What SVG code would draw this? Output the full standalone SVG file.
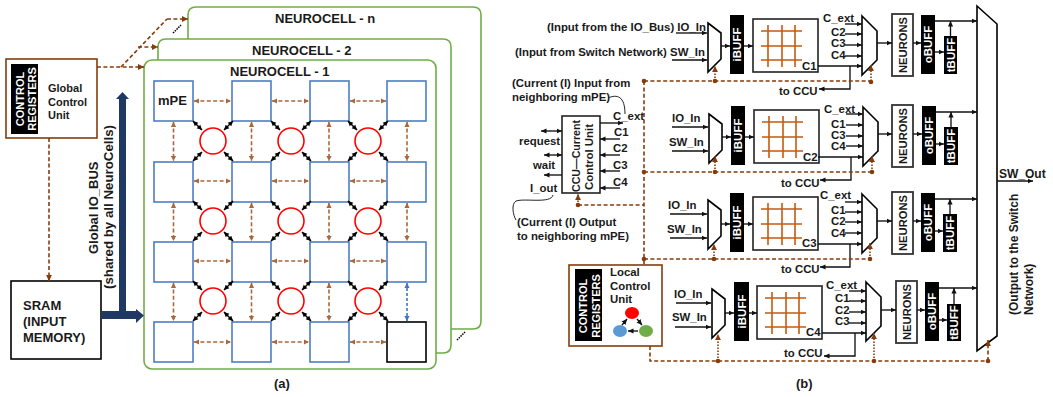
<svg xmlns="http://www.w3.org/2000/svg" xmlns:xlink="http://www.w3.org/1999/xlink" width="1053" height="397" viewBox="0 0 1053 397">
<style>
text{font-family:"Liberation Sans",Arial,sans-serif;font-weight:bold;fill:#1a1a1a}
.s11{font-size:11px}.t{font-size:11.4px}.b13{font-size:13px}.w{fill:#fff;font-size:11.5px;text-anchor:middle}.n{font-size:11.2px;text-anchor:middle}.r{font-size:11px;fill:#fff;text-anchor:middle}
.cell{fill:#fff;stroke:#70ad47;stroke-width:1.6}
.pe{fill:#fff;stroke:#4f7cc4;stroke-width:1.6}
.x{fill:#fff;stroke:#f00;stroke-width:1.6}
.ctl{fill:#fff;stroke:#843c0c;stroke-width:1.6}
.bk{fill:#000}
.mx{fill:#fff;stroke:#000;stroke-width:1.6}
.bx{fill:#fff;stroke:#222;stroke-width:1.6}
.nb{fill:#fff;stroke:#333;stroke-width:1.8}
.g{stroke:#c55a11;stroke-width:1.6;fill:none}
.a{stroke:#111;stroke-width:1.35;fill:none;marker-end:url(#ah)}
.l{stroke:#111;stroke-width:1.35;fill:none}
.aa{stroke:#111;stroke-width:1.35;fill:none;marker-end:url(#ah);marker-start:url(#ah)}
.d{stroke:#843c0c;stroke-width:1.6;fill:none;stroke-dasharray:4 2.4}
.da{stroke:#843c0c;stroke-width:1.6;fill:none;stroke-dasharray:4 2.4;marker-end:url(#bh)}
.dt{stroke:#843c0c;stroke-width:1.6;fill:none;stroke-dasharray:1.5 1.5;marker-end:url(#bh)}
.m{stroke:#a5683f;stroke-width:1.6;fill:none;stroke-dasharray:4 2.4;marker-end:url(#mh);marker-start:url(#mh)}
.u{stroke:#4472c4;stroke-width:1.6;fill:none;stroke-dasharray:3 2;marker-end:url(#uh);marker-start:url(#uh)}
.dg{stroke:#000;stroke-width:1.5;fill:none;marker-end:url(#kh);marker-start:url(#kh)}
.dot{fill:#843c0c}
.c{stroke:#222;stroke-width:1;fill:none}
</style>
<defs>
<marker id="ah" markerUnits="userSpaceOnUse" markerWidth="6" markerHeight="6" refX="5.500" refY="3" orient="auto-start-reverse"><path d="M0,.4L5.500,3L0,5.600z" fill="#111"/></marker>
<marker id="bh" markerUnits="userSpaceOnUse" markerWidth="7" markerHeight="7" refX="6" refY="3.500" orient="auto-start-reverse"><path d="M0,.6L6,3.500L0,6.400z" fill="#843c0c"/></marker>
<marker id="mh" markerUnits="userSpaceOnUse" markerWidth="6" markerHeight="6" refX="5" refY="3" orient="auto-start-reverse"><path d="M0,.4L5,3L0,5.600z" fill="#a5683f"/></marker>
<marker id="uh" markerUnits="userSpaceOnUse" markerWidth="6" markerHeight="6" refX="5" refY="3" orient="auto-start-reverse"><path d="M0,.4L5,3L0,5.600z" fill="#4472c4"/></marker>
<marker id="kh" markerUnits="userSpaceOnUse" markerWidth="6" markerHeight="6" refX="5" refY="3" orient="auto-start-reverse"><path d="M0,.4L5,3L0,5.600z" fill="#000"/></marker>
<polygon id="mux1" class="mx" points="0,0 13,10 13,36 0,49"/>
<polygon id="mux2" class="mx" points="0,0 15,15 15,44 0,59"/>
<g id="grid"><rect class="bx" width="65" height="53"/><path class="g" d="M8,12H49M8,27H49M8,41H49M15,6V48M29,6V48M42,6V48"/></g>
<g id="diag">
<line class="dg" x1="-20" y1="-20" x2="-11" y2="-11"/><line class="dg" x1="20" y1="-20" x2="11" y2="-11"/>
<line class="dg" x1="-20" y1="20" x2="-11" y2="11"/><line class="dg" x1="20" y1="20" x2="11" y2="11"/>
</g>
</defs>
<rect width="1053" height="397" fill="#fff"/>

<g id="neurocell-n"><path class="cell" d="M188,60V15Q188,7 196,7H473Q481,7 481,15V321Q481,329 473,329H440"/><text class="b13" x="275" y="23">NEUROCELL - n</text></g>
<g id="neurocell-2"><path class="cell" d="M158,62V47Q158,39 166,39H443Q451,39 451,47V345Q451,353 443,353H430"/><text class="b13" x="252" y="55">NEUROCELL - 2</text></g>
<g id="neurocell-1"><rect class="cell" x="144" y="60" width="292" height="309" rx="8"/><text class="b13" x="230" y="76">NEUROCELL - 1</text></g>

<g id="mpe-1-1"><rect class="pe" x="154" y="81" width="39" height="40"/><text class="b13" x="158" y="105">mPE</text></g>
<g id="mpe-1-2"><rect class="pe" x="232" y="81" width="39" height="40"/></g>
<g id="mpe-1-3"><rect class="pe" x="310" y="81" width="39" height="40"/></g>
<g id="mpe-1-4"><rect class="pe" x="387" y="81" width="39" height="40"/></g>
<g id="mpe-2-1"><rect class="pe" x="154" y="162" width="39" height="40"/></g>
<g id="mpe-2-2"><rect class="pe" x="232" y="162" width="39" height="40"/></g>
<g id="mpe-2-3"><rect class="pe" x="310" y="162" width="39" height="40"/></g>
<g id="mpe-2-4"><rect class="pe" x="387" y="162" width="39" height="40"/></g>
<g id="mpe-3-1"><rect class="pe" x="154" y="242" width="39" height="40"/></g>
<g id="mpe-3-2"><rect class="pe" x="232" y="242" width="39" height="40"/></g>
<g id="mpe-3-3"><rect class="pe" x="310" y="242" width="39" height="40"/></g>
<g id="mpe-3-4"><rect class="pe" x="387" y="242" width="39" height="40"/></g>
<g id="mpe-4-1"><rect class="pe" x="154" y="322" width="39" height="40"/></g>
<g id="mpe-4-2"><rect class="pe" x="232" y="322" width="39" height="40"/></g>
<g id="mpe-4-3"><rect class="pe" x="310" y="322" width="39" height="40"/></g>
<g id="mpe-4-4"><rect x="387" y="322" width="39" height="40" fill="#fff" stroke="#000" stroke-width="1.6"/></g>

<g id="router-1-1"><circle class="x" cx="213" cy="141" r="13"/></g>
<g id="router-1-2"><circle class="x" cx="291" cy="141" r="13"/></g>
<g id="router-1-3"><circle class="x" cx="368" cy="141" r="13"/></g>
<g id="router-2-1"><circle class="x" cx="213" cy="221" r="13"/></g>
<g id="router-2-2"><circle class="x" cx="291" cy="221" r="13"/></g>
<g id="router-2-3"><circle class="x" cx="368" cy="221" r="13"/></g>
<g id="router-3-1"><circle class="x" cx="213" cy="301" r="13"/></g>
<g id="router-3-2"><circle class="x" cx="291" cy="301" r="13"/></g>
<g id="router-3-3"><circle class="x" cx="368" cy="301" r="13"/></g>

<g id="global-control"><rect class="ctl" x="6" y="59" width="91" height="79"/><rect class="bk" x="11" y="64" width="27" height="70"/>
<text class="r" transform="translate(24,99) rotate(-90)">CONTROL</text><text class="r" transform="translate(36,99) rotate(-90)">REGISTERS</text>
<text class="s11" x="48" y="92">Global</text><text class="s11" x="48" y="106">Control</text><text class="s11" x="48" y="119">Unit</text></g>
<g id="sram"><rect x="11" y="281" width="90" height="78" fill="#fff" stroke="#000" stroke-width="1.6"/>
<text class="b13" x="23" y="310">SRAM</text><text class="b13" x="23" y="326">(INPUT</text><text class="b13" x="23" y="342">MEMORY)</text></g>
<g id="io-bus-label"><text class="b13" transform="translate(98,254) rotate(-90)">Global IO_BUS</text><text class="b13" style="font-size:13.3px" transform="translate(113,289) rotate(-90)">(shared by all NeuroCells)</text></g>
<text class="b13" x="274" y="388">(a)</text>
<text class="b13" x="796" y="388">(b)</text>

<g id="ccu"><rect class="bx" x="562" y="116" width="38" height="77"/>
<text class="s11" textLength="72" lengthAdjust="spacingAndGlyphs" transform="translate(580,192) rotate(-90)">CCU—Current</text>
<text class="s11" textLength="66" lengthAdjust="spacingAndGlyphs" transform="translate(593,190) rotate(-90)">Control Unit</text></g>
<g id="ccu-labels">
<text class="t" x="512" y="87">(Current (I) Input from</text><text class="t" x="512" y="101">neighboring mPE)</text>
<text class="t" x="613" y="120">C_ext</text><text class="t" x="614" y="136">C1</text><text class="t" x="613" y="152">C2</text><text class="t" x="613" y="169">C3</text><text class="t" x="613" y="186">C4</text>
<text class="t" x="519" y="145">request</text><text class="t" x="533" y="169">wait</text><text class="t" x="530" y="192">I_out</text>
<text class="t" x="517" y="226">(Current (I) Output</text><text class="t" x="517" y="240">to neighboring mPE)</text></g>

<g id="local-control"><rect class="ctl" x="569" y="265" width="93" height="81"/><rect class="bk" x="575" y="269" width="27" height="72"/>
<text class="r" transform="translate(587,306) rotate(-90)">CONTROL</text><text class="r" transform="translate(600,306) rotate(-90)">REGISTERS</text>
<text class="t" x="610" y="276">Local</text><text class="t" x="610" y="290">Control</text><text class="t" x="610" y="303">Unit</text>
<ellipse cx="632" cy="313" rx="7" ry="6" fill="#f00"/><ellipse cx="620" cy="331" rx="7" ry="6" fill="#5b9bd5"/><ellipse cx="646" cy="331" rx="7" ry="6" fill="#70ad47"/>
<path class="aa" d="M627,319L622,325M637,319L642,325"/><path class="a" d="M638,331H628"/></g>

<!-- row 1 -->
<g id="mux-in-1"><use href="#mux1" x="708" y="23"/></g>
<g id="ibuff-1"><rect class="bk" x="730" y="15" width="14" height="59"/><text class="w" transform="translate(741,44.500) rotate(-90)">iBUFF</text></g>
<g id="xbar-1"><use href="#grid" x="753" y="19"/><text class="t" x="802" y="70">C1</text></g>
<g id="mux-c-1"><use href="#mux2" x="862" y="16"/></g>
<g id="neurons-1"><rect class="nb" x="892" y="14" width="21" height="62"/><text class="n" transform="translate(907,45) rotate(-90)">NEURONS</text></g>
<g id="obuff-1"><rect class="bk" x="921" y="15" width="14" height="59"/><text class="w" transform="translate(932,44.500) rotate(-90)">oBUFF</text></g>
<g id="tbuff-1"><rect class="bk" x="944" y="36" width="13" height="38"/><text class="w" transform="translate(955,55) rotate(-90)">tBUFF</text></g>
<g id="row1-labels"><text class="t" x="547" y="31">(Input from the IO_Bus) IO_In</text><text class="t" x="515" y="56">(Input from Switch Network) SW_In</text>
<text class="t" x="823" y="22">C_ext</text><text class="t" x="831" y="36">C2</text><text class="t" x="831" y="47">C3</text><text class="t" x="831" y="59">C4</text><text class="t" x="779" y="95">to CCU</text></g>
<!-- row 2 -->
<g id="mux-in-2"><use href="#mux1" x="709" y="114"/></g>
<g id="ibuff-2"><rect class="bk" x="731" y="106" width="14" height="59"/><text class="w" transform="translate(742,135.500) rotate(-90)">iBUFF</text></g>
<g id="xbar-2"><use href="#grid" x="754" y="110"/><text class="t" x="803" y="161">C2</text></g>
<g id="mux-c-2"><use href="#mux2" x="863" y="107"/></g>
<g id="neurons-2"><rect class="nb" x="892" y="105" width="21" height="62"/><text class="n" transform="translate(907,136) rotate(-90)">NEURONS</text></g>
<g id="obuff-2"><rect class="bk" x="922" y="106" width="14" height="59"/><text class="w" transform="translate(933,135.500) rotate(-90)">oBUFF</text></g>
<g id="tbuff-2"><rect class="bk" x="944" y="127" width="14" height="38"/><text class="w" transform="translate(955,146) rotate(-90)">tBUFF</text></g>
<g id="row2-labels"><text class="t" x="672" y="122">IO_In</text><text class="t" x="669" y="146">SW_In</text>
<text class="t" x="824" y="113">C_ext</text><text class="t" x="831" y="128">C1</text><text class="t" x="831" y="139">C3</text><text class="t" x="831" y="150">C4</text><text class="t" x="781" y="187">to CCU</text></g>
<!-- row 3 -->
<g id="mux-in-3"><use href="#mux1" x="708" y="200"/></g>
<g id="ibuff-3"><rect class="bk" x="730" y="193" width="14" height="59"/><text class="w" transform="translate(741,222.500) rotate(-90)">iBUFF</text></g>
<g id="xbar-3"><use href="#grid" x="753" y="197"/><text class="t" x="802" y="247">C3</text></g>
<g id="mux-c-3"><use href="#mux2" x="862" y="194"/></g>
<g id="neurons-3"><rect class="nb" x="892" y="192" width="21" height="62"/><text class="n" transform="translate(907,223) rotate(-90)">NEURONS</text></g>
<g id="obuff-3"><rect class="bk" x="921" y="193" width="14" height="59"/><text class="w" transform="translate(932,222.500) rotate(-90)">oBUFF</text></g>
<g id="tbuff-3"><rect class="bk" x="943" y="214" width="14" height="38"/><text class="w" transform="translate(954,233) rotate(-90)">tBUFF</text></g>
<g id="row3-labels"><text class="t" x="668" y="209">IO_In</text><text class="t" x="667" y="233">SW_In</text>
<text class="t" x="820" y="199">C_ext</text><text class="t" x="831" y="214">C1</text><text class="t" x="831" y="225">C2</text><text class="t" x="831" y="237">C4</text><text class="t" x="781" y="273">to CCU</text></g>
<!-- row 4 -->
<g id="mux-in-4"><use href="#mux1" x="712" y="289"/></g>
<g id="ibuff-4"><rect class="bk" x="734" y="282" width="15" height="59"/><text class="w" transform="translate(745.500,311.500) rotate(-90)">iBUFF</text></g>
<g id="xbar-4"><use href="#grid" x="757" y="286"/><text class="t" x="806" y="336">C4</text></g>
<g id="mux-c-4"><use href="#mux2" x="866" y="282"/></g>
<g id="neurons-4"><rect class="nb" x="896" y="281" width="21" height="62"/><text class="n" transform="translate(911,312) rotate(-90)">NEURONS</text></g>
<g id="obuff-4"><rect class="bk" x="925" y="282" width="14" height="59"/><text class="w" transform="translate(936,311.500) rotate(-90)">oBUFF</text></g>
<g id="tbuff-4"><rect class="bk" x="947" y="304" width="14" height="37"/><text class="w" transform="translate(958,322.500) rotate(-90)">tBUFF</text></g>
<g id="row4-labels"><text class="t" x="674" y="298">IO_In</text><text class="t" x="672" y="321">SW_In</text>
<text class="t" x="826" y="289">C_ext</text><text class="t" x="835" y="302">C1</text><text class="t" x="835" y="314">C2</text><text class="t" x="835" y="325">C3</text><text class="t" x="784" y="357">to CCU</text></g>

<g id="output-mux"><polygon class="mx" points="977,6 997,24 997,336 977,351"/>
<text style="font-size:12px" x="999" y="178">SW_Out</text>
<text style="font-size:12px" transform="translate(1018,315) rotate(-90)">(Output to the Switch</text>
<text style="font-size:12px" transform="translate(1033,315) rotate(-90)">Network)</text></g>

<g id="connectors">
<!-- part a -->
<path class="da" d="M97,67H144"/><path class="d" d="M121,67L167,19"/><path class="da" d="M167,19H188"/><path class="da" d="M138,47H158"/>
<path class="da" d="M49,138V281"/>
<path d="M173,33L181,25M457,340L465,332" stroke="#000" stroke-width="1.5" stroke-dasharray="1.5 1" fill="none"/>
<path fill="#1f3864" d="M119,311V99H116L122.500,92L129,99H126V311H136V309L144,315.500L136,323V319H101V311z"/>
<g id="mesh">
<line class="m" x1="194" y1="101" x2="231" y2="101"/><line class="m" x1="272" y1="101" x2="309" y2="101"/><line class="m" x1="350" y1="101" x2="386" y2="101"/>
<line class="m" x1="194" y1="181" x2="231" y2="181"/><line class="m" x1="272" y1="181" x2="309" y2="181"/><line class="m" x1="350" y1="181" x2="386" y2="181"/>
<line class="m" x1="194" y1="261" x2="231" y2="261"/><line class="m" x1="272" y1="261" x2="309" y2="261"/><line class="m" x1="350" y1="261" x2="386" y2="261"/>
<line class="m" x1="194" y1="342" x2="231" y2="342"/><line class="m" x1="272" y1="342" x2="309" y2="342"/><line class="m" x1="350" y1="342" x2="386" y2="342"/>
<line class="m" x1="173.500" y1="122" x2="173.500" y2="161"/><line class="m" x1="251.500" y1="122" x2="251.500" y2="161"/><line class="m" x1="329" y1="122" x2="329" y2="161"/><line class="m" x1="407" y1="122" x2="407" y2="161"/>
<line class="m" x1="173.500" y1="203" x2="173.500" y2="241"/><line class="m" x1="251.500" y1="203" x2="251.500" y2="241"/><line class="m" x1="329" y1="203" x2="329" y2="241"/><line class="m" x1="407" y1="203" x2="407" y2="241"/>
<line class="m" x1="173.500" y1="283" x2="173.500" y2="321"/><line class="m" x1="251.500" y1="283" x2="251.500" y2="321"/><line class="m" x1="329" y1="283" x2="329" y2="321"/><line class="u" x1="407" y1="283" x2="407" y2="321"/>
<use href="#diag" x="213" y="141"/><use href="#diag" x="291" y="141"/><use href="#diag" x="368" y="141"/>
<use href="#diag" x="213" y="221"/><use href="#diag" x="291" y="221"/><use href="#diag" x="368" y="221"/>
<use href="#diag" x="213" y="301"/><use href="#diag" x="291" y="301"/><use href="#diag" x="368" y="301"/>
</g>
<!-- CCU -->
<path class="a" d="M600,123H623"/><path class="a" d="M620,139H600"/><path class="a" d="M620,155H600"/><path class="a" d="M620,171H600"/><path class="a" d="M620,188H600"/>
<path class="aa" d="M541,131H562"/><path class="aa" d="M544,155H562"/><path class="a" d="M562,175H544"/>
<path class="c" d="M608,98C617,94 625,96 625,114"/>
<path class="c" d="M553,195C551,204 525,198 516,201C511,204 513,215 516,220"/>
<!-- row 1 -->
<path class="a" d="M676,33H707"/><path class="a" d="M672,60H707"/><path class="a" d="M721,46H730"/><path class="a" d="M744,46H753"/>
<path class="a" d="M845,24H862"/><path class="a" d="M845,34H862"/><path class="a" d="M845,45H862"/><path class="a" d="M845,56H862"/><path class="a" d="M818,66H862"/><path class="a" d="M850,66V89H819"/>
<path class="a" d="M877,43H892"/><path class="a" d="M913,43H921"/><path class="a" d="M935,52H944"/><path class="a" d="M950.500,36V21"/><path class="a" d="M935,21H977"/>
<!-- row 2 -->
<path class="a" d="M672,127H708"/><path class="a" d="M672,151H708"/><path class="a" d="M722,137H731"/><path class="a" d="M745,137H754"/>
<path class="a" d="M846,114H863"/><path class="a" d="M846,125H863"/><path class="a" d="M846,136H863"/><path class="a" d="M846,146H863"/><path class="a" d="M818,157H863"/><path class="a" d="M851,157V180H820"/>
<path class="a" d="M878,134H892"/><path class="a" d="M913,134H922"/><path class="a" d="M936,144H944"/><path class="a" d="M951,127V112"/><path class="a" d="M936,112H977"/>
<!-- row 3 -->
<path class="a" d="M670,214H707"/><path class="a" d="M670,238H707"/><path class="a" d="M721,224H730"/><path class="a" d="M744,224H753"/>
<path class="a" d="M845,202H862"/><path class="a" d="M845,212H862"/><path class="a" d="M845,222H862"/><path class="a" d="M845,233H862"/><path class="a" d="M818,244H862"/><path class="a" d="M850,244V267H820"/>
<path class="a" d="M877,221H892"/><path class="a" d="M913,221H921"/><path class="a" d="M935,231H943"/><path class="a" d="M950,214V199"/><path class="a" d="M935,199H977"/>
<!-- row 4 -->
<path class="a" d="M676,303H711"/><path class="a" d="M675,327H711"/><path class="a" d="M725,313H734"/><path class="a" d="M749,313H757"/>
<path class="a" d="M849,291H866"/><path class="a" d="M849,301H866"/><path class="a" d="M849,312H866"/><path class="a" d="M849,323H866"/><path class="a" d="M822,333H866"/><path class="a" d="M855,333V356H824"/>
<path class="a" d="M881,310H896"/><path class="a" d="M917,310H925"/><path class="a" d="M939,320H947"/><path class="a" d="M954,304V288"/><path class="a" d="M939,288H977"/>
<path class="a" d="M997,181H1033"/>
<!-- control -->
<path class="d" d="M644,81H871M644,172H872M644,259H870M644,81V265M578,205H644M650,346V361H988"/>
<path class="dt" d="M715,81V66"/><path class="dt" d="M871,81V65"/>
<path class="dt" d="M715,172V156"/><path class="dt" d="M872,172V156"/>
<path class="dt" d="M714,259V244"/><path class="dt" d="M870,259V243"/>
<path class="dt" d="M718,361V334"/><path class="dt" d="M874,361V333"/><path class="da" d="M988,361V340"/><path class="dt" d="M578,205V194"/>
<g class="dot"><circle cx="644" cy="81" r="2.300"/><circle cx="715" cy="81" r="2.300"/><circle cx="871" cy="82" r="2.300"/>
<circle cx="644" cy="172" r="2.300"/><circle cx="715" cy="172" r="2.300"/><circle cx="872" cy="172" r="2.300"/>
<circle cx="644" cy="259" r="2.300"/><circle cx="714" cy="259" r="2.300"/><circle cx="870" cy="259" r="2.300"/>
<circle cx="578" cy="205" r="2.300"/><circle cx="718" cy="361" r="2.300"/><circle cx="874" cy="361" r="2.300"/><circle cx="988" cy="361" r="2.300"/></g>
</g>
</svg>
